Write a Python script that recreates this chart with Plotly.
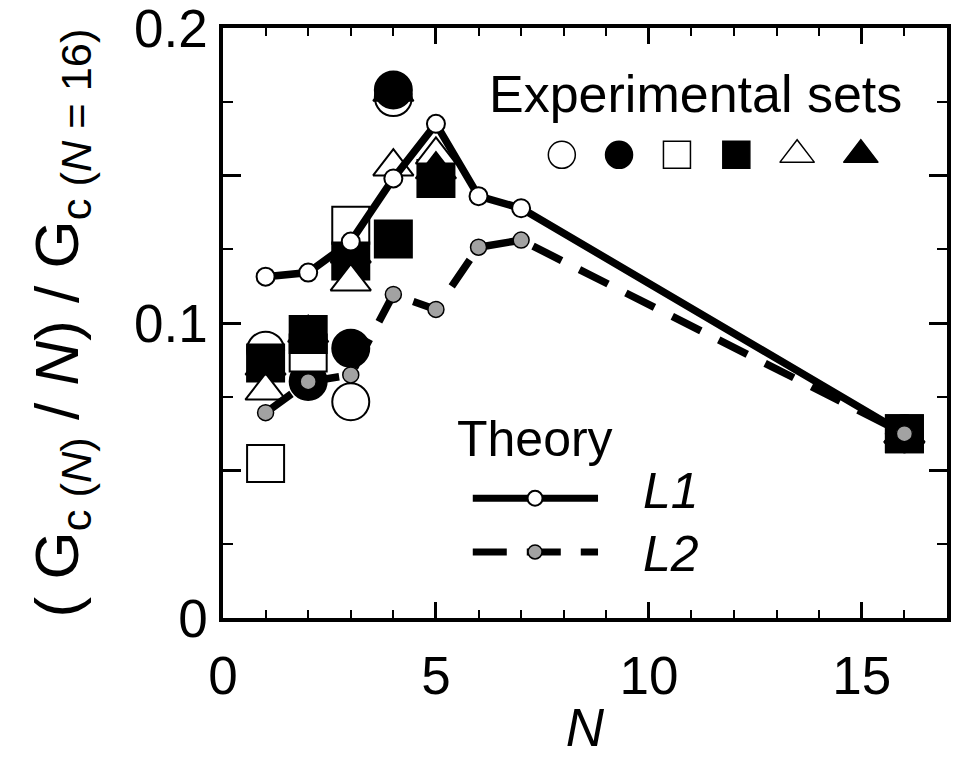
import plotly.graph_objects as go

# Theory curves: normalised conductance per layer vs. number of layers N
n_theory = [1, 2, 3, 4, 5, 6, 7, 16]
l1_values = [0.1157, 0.1171, 0.1276, 0.1490, 0.1675, 0.1430, 0.1389, 0.0625]
l2_values = [0.0696, 0.0801, 0.0824, 0.1097, 0.1046, 0.1257, 0.1281, 0.0625]

# Experimental sets (points that are measured for each set)
open_circle_n = [1, 3, 4, 16]
open_circle_v = [0.0908, 0.0733, 0.1764, 0.0625]
filled_circle_n = [2, 3, 4, 16]
filled_circle_v = [0.0802, 0.0914, 0.1790, 0.0625]
open_square_n = [1, 2, 3, 16]
open_square_v = [0.0524, 0.0898, 0.1331, 0.0625]
filled_square_n = [1, 2, 3, 4, 5, 16]
filled_square_v = [0.0864, 0.0961, 0.1210, 0.1285, 0.1490, 0.0625]
open_triangle_n = [1, 3, 4, 5, 16]
open_triangle_v = [0.0770, 0.1140, 0.1530, 0.1570, 0.0625]
filled_triangle_n = [1, 2, 3, 4, 5, 16]
filled_triangle_v = [0.0855, 0.0966, 0.1235, 0.1783, 0.1520, 0.0625]

x_tick_vals = [0, 5, 10, 15]
y_tick_vals = [0, 0.05, 0.1, 0.15, 0.2]
y_tick_text = ["0", "", "0.1", "", "0.2"]

FONT = "Liberation Sans, Arial, Helvetica, sans-serif"
GRAY = "#a2a2a2"
BIG = 37
TRI = 35

exp_sets = [
    (open_circle_n, open_circle_v, "circle", "white"),
    (filled_circle_n, filled_circle_v, "circle", "black"),
    (open_square_n, open_square_v, "square", "white"),
    (filled_square_n, filled_square_v, "square", "black"),
    (open_triangle_n, open_triangle_v, "triangle-up", "white"),
    (filled_triangle_n, filled_triangle_v, "triangle-up", "black"),
]

fig = go.Figure()

for n, v, sym, fill in exp_sets:
    fig.add_trace(go.Scatter(
        x=n, y=v, mode="markers",
        marker=dict(symbol=sym, size=TRI if sym == "triangle-up" else BIG,
                    color=fill, line=dict(color="black", width=2)),
        showlegend=False, hoverinfo="skip"))

fig.add_trace(go.Scatter(
    x=n_theory, y=l1_values, mode="lines+markers",
    line=dict(color="black", width=7.5),
    marker=dict(symbol="circle", size=18, color="white",
                line=dict(color="black", width=2)),
    showlegend=False))
fig.add_trace(go.Scatter(
    x=n_theory, y=l2_values, mode="lines+markers",
    line=dict(color="black", width=7.5, dash="32px,20px"),
    marker=dict(symbol="circle", size=16, color=GRAY,
                line=dict(color="black", width=1.5)),
    showlegend=False))

# Key drawn on an overlay axis spanning the plot area (0..1 in both directions)
key_x = [0.468, 0.547, 0.627, 0.709, 0.793, 0.881]
for (n, v, sym, fill), kx in zip(exp_sets, key_x):
    fig.add_trace(go.Scatter(
        x=[kx], y=[0.785], xaxis="x2", yaxis="y2", mode="markers",
        marker=dict(symbol=sym, size=30 if sym == "triangle-up" else 27,
                    color=fill, line=dict(color="black", width=1.5)),
        showlegend=False, hoverinfo="skip"))

fig.add_trace(go.Scatter(
    x=[0.345, 0.518], y=[0.203, 0.203], xaxis="x2", yaxis="y2",
    mode="lines", line=dict(color="black", width=7),
    showlegend=False, hoverinfo="skip"))
fig.add_trace(go.Scatter(
    x=[0.431], y=[0.203], xaxis="x2", yaxis="y2", mode="markers",
    marker=dict(symbol="circle", size=15, color="white",
                line=dict(color="black", width=2)),
    showlegend=False, hoverinfo="skip"))
fig.add_trace(go.Scatter(
    x=[0.345, 0.518], y=[0.112, 0.112], xaxis="x2", yaxis="y2",
    mode="lines", line=dict(color="black", width=7, dash="34px,20px"),
    showlegend=False, hoverinfo="skip"))
fig.add_trace(go.Scatter(
    x=[0.431], y=[0.112], xaxis="x2", yaxis="y2", mode="markers",
    marker=dict(symbol="circle", size=14, color=GRAY,
                line=dict(color="black", width=1.5)),
    showlegend=False, hoverinfo="skip"))

annotations = [
    dict(text="Experimental sets", x=0.653, y=0.888, xanchor="center", yanchor="middle",
         font=dict(size=52)),
    dict(text="Theory", x=0.431, y=0.303, xanchor="center", yanchor="middle",
         font=dict(size=50)),
    dict(text="<i>L1</i>", x=0.578, y=0.215, xanchor="left", yanchor="middle",
         font=dict(size=50)),
    dict(text="<i>L2</i>", x=0.578, y=0.108, xanchor="left", yanchor="middle",
         font=dict(size=50)),
]
for a in annotations:
    a.update(xref="paper", yref="paper", showarrow=False)

fig.update_layout(
    width=956, height=766,
    margin=dict(l=223, r=9, t=28, b=148, autoexpand=False),
    paper_bgcolor="white", plot_bgcolor="white",
    font=dict(family=FONT, color="black", size=52),
    annotations=annotations,
    xaxis=dict(
        range=[0, 17], tickvals=x_tick_vals, ticks="inside", ticklen=16,
        tickwidth=2.5, tickcolor="black", automargin=False,
        minor=dict(dtick=1, ticks="inside", ticklen=8, tickwidth=2, tickcolor="black"),
        showline=True, linecolor="black", linewidth=3.5, mirror="ticks",
        showgrid=False, zeroline=False, ticklabeloverflow="allow",
        tickfont=dict(size=53), ticklabelstandoff=9,
        title=dict(text="<i>N</i>", font=dict(size=53), standoff=6),
    ),
    yaxis=dict(
        range=[0, 0.2], tickvals=y_tick_vals, ticktext=y_tick_text,
        ticks="inside", ticklen=18, tickwidth=2.5, tickcolor="black", automargin=False,
        minor=dict(dtick=0.025, ticks="inside", ticklen=10, tickwidth=2, tickcolor="black"),
        showline=True, linecolor="black", linewidth=3.5, mirror="ticks",
        showgrid=False, zeroline=False, ticklabeloverflow="allow",
        tickfont=dict(size=53), ticklabelstandoff=1,
        title=dict(text="( G<sub>c (<i>N</i>)</sub> / <i>N</i>) / G<sub>c (<i>N</i> = 16)</sub>",
                   font=dict(size=62), standoff=36),
    ),
    xaxis2=dict(range=[0, 1], overlaying="x", visible=False, fixedrange=True),
    yaxis2=dict(range=[0, 1], overlaying="y", visible=False, fixedrange=True),
)

fig.write_html("out.html")
